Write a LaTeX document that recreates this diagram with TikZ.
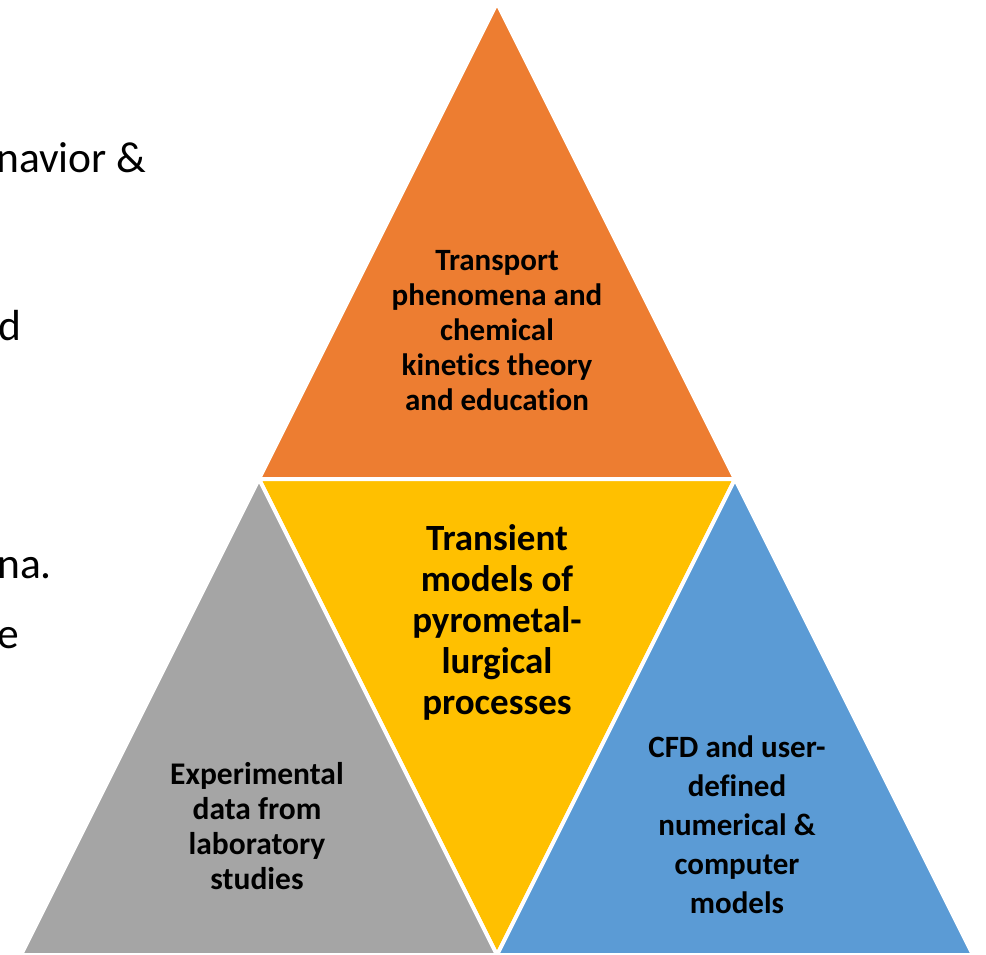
\documentclass[tikz,border=0pt]{standalone}
\usepackage{fontspec}
\setmainfont{Carlito}[Ligatures=NoCommon]
\usetikzlibrary{positioning}
\definecolor{PyroOrange}{RGB}{237,125,49}
\definecolor{PyroYellow}{RGB}{255,192,0}
\definecolor{PyroGray}{RGB}{165,165,165}
\definecolor{PyroBlue}{RGB}{91,155,213}

\tikzset{
  tri/.style={draw=white, line width=4pt, line join=miter},
  lbl/.style={align=center, text=black, inner sep=0pt},
  side/.style={font=\fontsize{43.5}{50}\selectfont, anchor=base west, inner sep=0pt}
}

\begin{document}
\begin{tikzpicture}[x=1pt,y=-1pt]

\useasboundingbox (0,0) rectangle (986,954);
\clip (0,0) rectangle (986,954);

% Corner points of the pyramid
\coordinate (apex) at (497,3);
\coordinate (midL) at (259,479);
\coordinate (midR) at (735,479);
\coordinate (botL) at (21,955);
\coordinate (botM) at (497,955);
\coordinate (botR) at (973,955);

% --- Text running in from the left ---
\node[side] (txtnavior) at (-4,172) {navior \&};
\node[side] (txtd) at (-2,340) {d};
\node[side] (txtna) at (-3,578) {na.};
\node[side] (txte) at (-3,648) {e};

% --- Four triangles ---
\filldraw[tri, fill=PyroOrange] (apex) -- (midR) -- (midL) -- cycle;
\filldraw[tri, fill=PyroYellow] (midL) -- (midR) -- (botM) -- cycle;
\filldraw[tri, fill=PyroGray] (midL) -- (botM) -- (botL) -- cycle;
\filldraw[tri, fill=PyroBlue] (midR) -- (botR) -- (botM) -- cycle;

% --- Labels ---
\node[lbl, font=\fontsize{31}{35}\selectfont\bfseries] (theory) at (497,331)
  {Transport\\phenomena and\\chemical\\kinetics theory\\and education};
\node[lbl, font=\fontsize{37}{41}\selectfont\bfseries] (transient) at (497,622)
  {Transient\\models of\\pyrometal-\\lurgical\\processes};
\node[lbl, font=\fontsize{31.5}{35}\selectfont\bfseries] (experiment) at (257,826)
  {Experimental\\data from\\laboratory\\studies};
\node[lbl, font=\fontsize{31}{39}\selectfont\bfseries] (cfd) at (737,825)
  {CFD and user-\\defined\\numerical \&\\computer\\models};

\end{tikzpicture}
\end{document}
